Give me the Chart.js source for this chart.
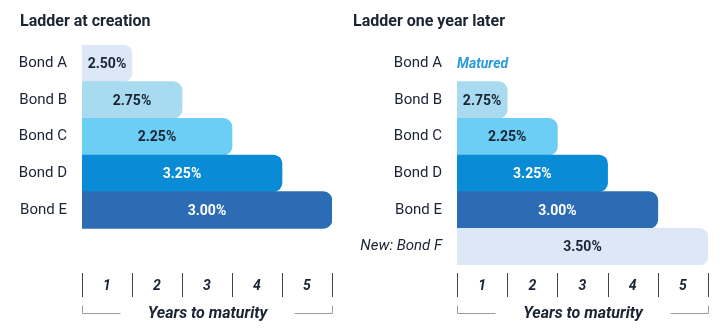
<!DOCTYPE html>
<html>
<head>
<meta charset="utf-8">
<script src="https://cdn.jsdelivr.net/npm/chart.js@4/dist/chart.umd.min.js"></script>
<style>
  body{margin:0;background:#fff;}
  #wrap{position:relative;width:727px;height:332px;}
  .panel{position:absolute;top:0;height:332px;}
  #left{left:0;width:350px;}
  #right{left:350px;width:377px;}
</style>
</head>
<body>
<div id="wrap">
  <div class="panel" id="left"><canvas id="c1"></canvas></div>
  <div class="panel" id="right"><canvas id="c2"></canvas></div>
</div>
<script>
// data
const leftTitle = "Ladder at creation";
const rightTitle = "Ladder one year later";
const leftBonds = ["Bond A", "Bond B", "Bond C", "Bond D", "Bond E", ""];
const rightBonds = ["Bond A", "Bond B", "Bond C", "Bond D", "Bond E", "New: Bond F"];
// years to maturity
const leftYears = [1, 2, 3, 4, 5, null];
const rightYears = [null, 1, 2, 3, 4, 5];
// yields
const leftYields = ["2.50%", "2.75%", "2.25%", "3.25%", "3.00%", ""];
const rightYields = ["", "2.75%", "2.25%", "3.25%", "3.00%", "3.50%"];
const rightNotes = ["Matured", "", "", "", "", ""];
const xTickLabels = ["1", "2", "3", "4", "5"];
const axisTitle = "Years to maturity";

// colors
const leftColors = ["#dce8f6", "#a8dbef", "#6ccdf5", "#0a8bd5", "#2b6cb5", "#ffffff"];
const rightColors = ["#ffffff", "#a8dbef", "#6ccdf5", "#0a8bd5", "#2b6cb5", "#dce8f6"];
const leftText = ["#1b2433", "#1b2433", "#1b2433", "#ffffff", "#ffffff", "#1b2433"];
const rightText = ["#1b2433", "#1b2433", "#1b2433", "#ffffff", "#ffffff", "#1b2433"];

const FONT = "Roboto, 'Liberation Sans', sans-serif";

//draws the title, the yield text in the bars, the notes and the custom axis
const ladderPlugin = {
  id: "ladder",
  afterDatasetsDraw(chart, args, opts) {
    const ctx = chart.ctx;
    const meta = chart.getDatasetMeta(0);
    const x = chart.scales.x;
    const y = chart.scales.y;
    ctx.save();
    ctx.textBaseline = "middle";
    // title
    ctx.font = "bold 16px " + FONT;
    ctx.textAlign = "left";
    ctx.fillStyle = "#1b2433";
    ctx.fillText(opts.title, opts.titleX, 22);
    // yields
    ctx.font = "bold 14px " + FONT;
    ctx.textAlign = "center";
    meta.data.forEach((bar, i) => {
      if (!opts.yields[i]) return;
      const cx = (bar.base + bar.x) / 2;
      ctx.fillStyle = opts.textColors[i];
      ctx.fillText(opts.yields[i], cx, bar.y + 1);
    });
    // notes (matured)
    ctx.font = "italic bold 14px " + FONT;
    ctx.textAlign = "left";
    ctx.fillStyle = "#2a9bd9";
    opts.notes.forEach((n, i) => {
      if (!n) return;
      ctx.fillText(n, x.getPixelForValue(0), y.getPixelForValue(i) + 1);
    });

    // axis
    const top = chart.chartArea.bottom + 8;
    const bot = top + 24;
    ctx.strokeStyle = "#444";
    ctx.lineWidth = 1;
    for (let v = 0; v <= xTickLabels.length; v++) {
      const px = Math.round(x.getPixelForValue(v)) + 0.5;
      ctx.beginPath();
      ctx.moveTo(px, top);
      ctx.lineTo(px, bot);
      ctx.stroke();
    }
    ctx.font = "italic bold 14px " + FONT;
    ctx.textAlign = "center";
    ctx.fillStyle = "#1b2433";
    xTickLabels.forEach((t, i) => {
      ctx.fillText(t, x.getPixelForValue(i + 0.5), (top + bot) / 2 + 1);
    });

    // bracket + axis title
    const x0 = Math.round(x.getPixelForValue(0)) + 0.5;
    const x5 = Math.round(x.getPixelForValue(5)) + 0.5;
    const by = bot + 16.5;
    ctx.strokeStyle = "#9a9a9a";
    ctx.beginPath();
    ctx.moveTo(x0, by - 8);
    ctx.lineTo(x0, by);
    ctx.lineTo(x0 + 38, by);
    ctx.moveTo(x5 - 38, by);
    ctx.lineTo(x5, by);
    ctx.lineTo(x5, by - 8);
    ctx.stroke();
    ctx.font = "italic bold 16px " + FONT;
    ctx.fillStyle = "#1b2433";
    ctx.fillText(axisTitle, (x0 + x5) / 2, by);
    ctx.restore();
  }
};

function makeChart(id, title, titleX, bonds, years, colors, yields, textColors, notes, axisWidth, padRight) {
  return new Chart(document.getElementById(id), {
    type: "bar",
    data: {
      labels: bonds,
      datasets: [{
        data: years,
        backgroundColor: colors,
        borderRadius: 9,
        borderSkipped: "start",
        categoryPercentage: 1,
        barPercentage: 1
      }]
    },
    options: {
      indexAxis: "y",
      responsive: true,
      maintainAspectRatio: false,
      animation: false,
      layout: { padding: { top: 45, bottom: 67, left: 0, right: padRight } },
      plugins: {
        legend: { display: false },
        tooltip: { enabled: false },
        title: { display: false },
        ladder: { title: title, titleX: titleX, yields: yields, textColors: textColors, notes: notes }
      },
      scales: {
        x: { display: false, min: 0, max: 5 },
        y: {
          grid: { display: false },
          border: { display: false },
          afterFit(scale) { scale.width = axisWidth; },
          ticks: {
            color: "#1b2433",
            padding: 7,
            font: (c) => ({
              family: FONT,
              size: 15,
              style: c.index === 5 ? "italic" : "normal"
            })
          }
        }
      }
    },
    plugins: [ladderPlugin]
  });
}

Chart.defaults.font.family = FONT;
makeChart("c1", leftTitle, 20, leftBonds, leftYears, leftColors, leftYields, leftText, ["", "", "", "", "", ""], 82, 18);
makeChart("c2", rightTitle, 3, rightBonds, rightYears, rightColors, rightYields, rightText, rightNotes, 107, 19);
</script>
</body>
</html>
